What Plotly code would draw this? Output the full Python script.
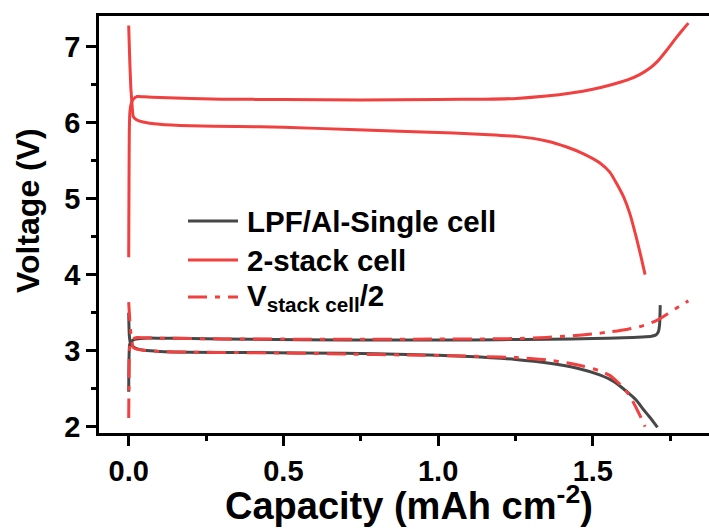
import numpy as np
import plotly.graph_objects as go

# Galvanostatic charge/discharge profiles (capacity in mAh cm^-2, voltage in V)
single_chg_x = [0, 0.001, 0.003, 0.008, 0.02, 0.05, 0.1, 0.2, 0.4, 0.7, 1.0, 1.2, 1.36,
                1.5, 1.6, 1.66, 1.69, 1.705, 1.712, 1.716, 1.718]
single_chg_v = [2.46, 2.9, 3.08, 3.12, 3.15, 3.165, 3.165, 3.16, 3.15, 3.14, 3.14, 3.145, 3.15,
                3.16, 3.17, 3.18, 3.19, 3.21, 3.25, 3.35, 3.60]
single_dis_x = [0, 0.002, 0.006, 0.015, 0.03, 0.05, 0.1, 0.2, 0.4, 0.7, 0.9, 1.1, 1.25, 1.36,
                1.45, 1.52, 1.57, 1.61, 1.64, 1.663, 1.685, 1.70, 1.709]
single_dis_v = [3.50, 3.2, 3.1, 3.05, 3.02, 3.005, 2.99, 2.98, 2.975, 2.965, 2.95, 2.925, 2.885, 2.835,
                2.77, 2.685, 2.59, 2.46, 2.35, 2.23, 2.12, 2.04, 1.99]

stack_chg_x = [0, 0.001, 0.002, 0.004, 0.008, 0.015, 0.027, 0.05, 0.1, 0.3, 0.5, 0.75, 1.0,
               1.15, 1.254, 1.35, 1.43, 1.5, 1.56, 1.61, 1.65, 1.685, 1.71, 1.74, 1.77, 1.79, 1.809]
stack_chg_v = [4.23, 5.2, 5.9, 6.15, 6.25, 6.31, 6.345, 6.34, 6.33, 6.31, 6.305, 6.30, 6.305,
               6.31, 6.32, 6.35, 6.39, 6.44, 6.50, 6.56, 6.63, 6.72, 6.81, 6.96, 7.12, 7.22, 7.31]
stack_dis_x = [0, 0.002, 0.004, 0.007, 0.009, 0.012, 0.015, 0.025, 0.046, 0.1, 0.2, 0.35, 0.5,
               0.715, 0.9, 1.05, 1.15, 1.254, 1.35, 1.416, 1.47, 1.523, 1.555, 1.577, 1.60, 1.62,
               1.64, 1.655, 1.669]
stack_dis_v = [7.28, 7.0, 6.75, 6.45, 6.34, 6.17, 6.08, 6.04, 6.01, 5.98, 5.96, 5.95, 5.94,
               5.91, 5.885, 5.865, 5.845, 5.82, 5.76, 5.68, 5.59, 5.47, 5.35, 5.20, 5.02, 4.80,
               4.50, 4.25, 4.00]

x_ticks = [0.0, 0.5, 1.0, 1.5]
x_tick_text = ["0.0", "0.5", "1.0", "1.5"]
y_ticks = [2, 3, 4, 5, 6, 7]

legend_labels = ["LPF/Al-Single cell", "2-stack cell", "V<sub>stack cell</sub>/2"]

RED = "#F0403F"
GRAY = "#474747"
DASHDOT = "19px,8px,5px,8px"
FONT = "Liberation Sans, Arial, sans-serif"


def joined(x1, y1, x2, y2):
    """Charge and discharge branches as one polyline with a break between them."""
    return list(x1) + [None] + list(x2), list(y1) + [None] + list(y2)


sx, sv = joined(single_chg_x, single_chg_v, single_dis_x, single_dis_v)
kx, kv = joined(stack_chg_x, stack_chg_v, stack_dis_x, stack_dis_v)
# Half of the stack voltage, as stated by its label
hv = [None if v is None else v / 2 for v in kv]

SMOOTH = 0.5
fig = go.Figure()
fig.add_trace(go.Scatter(x=sx, y=sv, mode="lines", name=legend_labels[0],
                         line=dict(color=GRAY, width=3, shape="spline", smoothing=SMOOTH),
                         showlegend=False))
fig.add_trace(go.Scatter(x=kx, y=kv, mode="lines", name=legend_labels[1],
                         line=dict(color=RED, width=3, shape="spline", smoothing=SMOOTH),
                         showlegend=False))
fig.add_trace(go.Scatter(x=kx, y=hv, mode="lines", name=legend_labels[2],
                         line=dict(color=RED, width=3, dash=DASHDOT, shape="spline",
                                   smoothing=SMOOTH),
                         showlegend=False))

# Hand-placed legend (long line samples)
L_X0, L_X1 = (188 - 99) / 610, (238 - 99) / 610
legend_y = [(433 - 221) / 417, (433 - 260) / 417, (433 - 297) / 417]
legend_style = [dict(color=GRAY, width=3), dict(color=RED, width=3),
                dict(color=RED, width=3, dash=DASHDOT)]
shapes = []
annotations = []
for lab, yy, st in zip(legend_labels, legend_y, legend_style):
    shapes.append(dict(type="line", xref="paper", yref="paper", x0=L_X0, x1=L_X1,
                       y0=yy, y1=yy, line=st))
    annotations.append(dict(text=lab, xref="paper", yref="paper", x=(245 - 99) / 610, y=yy,
                            xanchor="left", yanchor="middle", showarrow=False,
                            font=dict(family=FONT, size=29.5, color="black", weight="bold")))

# Axis titles
annotations.append(dict(text="Capacity (mAh cm<sup>-2</sup>)", xref="paper", yref="paper",
                        x=(409 - 99) / 610, y=(433 - 503) / 417, xanchor="center",
                        yanchor="middle", showarrow=False,
                        font=dict(family=FONT, size=38, color="black", weight="bold")))
annotations.append(dict(text="Voltage (V)", xref="paper", yref="paper",
                        x=(28 - 99) / 610, y=(433 - 211) / 417, xanchor="center",
                        yanchor="middle", textangle=-90, showarrow=False,
                        font=dict(family=FONT, size=32, color="black", weight="bold")))

axis_common = dict(showgrid=False, zeroline=False, showline=True, linecolor="black",
                   linewidth=2.5, ticks="outside", ticklen=10, tickwidth=2.5,
                   tickcolor="black",
                   tickfont=dict(family=FONT, size=29, color="black", weight="bold"))

fig.update_layout(
    width=709, height=529,
    margin=dict(l=99, r=0, t=16, b=96),
    paper_bgcolor="white", plot_bgcolor="white",
    shapes=shapes, annotations=annotations,
    xaxis=dict(range=[-0.096, 1.8756], tickvals=x_ticks, ticktext=x_tick_text, mirror=True,
               minor=dict(dtick=0.25, tick0=0, ticks="outside", ticklen=5, tickwidth=2.5,
                          tickcolor="black"),
               **axis_common),
    yaxis=dict(range=[1.917, 7.404], tickvals=y_ticks,
               minor=dict(dtick=0.5, tick0=0, ticks="outside", ticklen=5, tickwidth=2.5,
                          tickcolor="black"),
               **axis_common),
)

fig.write_html("out.html")
